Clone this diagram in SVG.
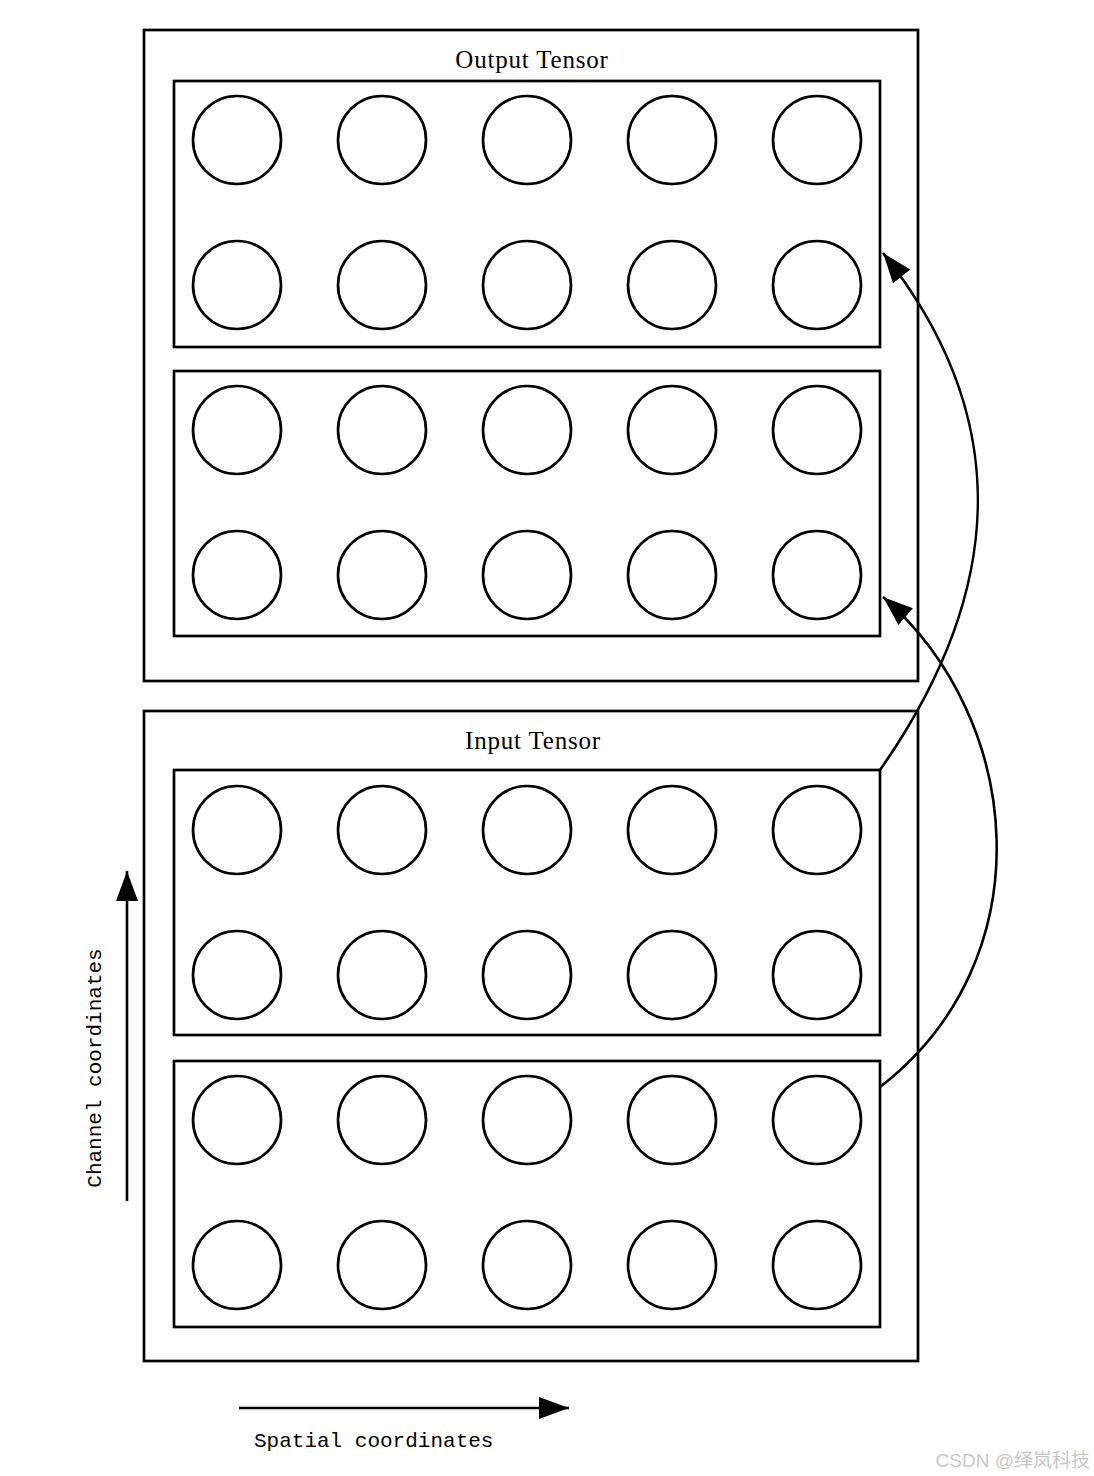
<svg xmlns="http://www.w3.org/2000/svg" width="1094" height="1476" viewBox="0 0 1094 1476">
<style>
.box{fill:none;stroke:#000;stroke-width:2.7}
.c{fill:none;stroke:#000;stroke-width:2.7}
.edge{fill:none;stroke:#000;stroke-width:2.6}
.title{font-family:"Liberation Serif","DejaVu Serif",serif;font-size:25px;letter-spacing:0.8px;text-anchor:middle;fill:#000}
.mono{font-family:"Liberation Mono","DejaVu Sans Mono",monospace;font-size:21px;fill:#000}
</style>
<defs>
<marker id="ah" markerUnits="userSpaceOnUse" markerWidth="32" markerHeight="24" refX="30" refY="11" orient="auto" viewBox="0 0 32 22">
<path d="M0,0 L30,11 L0,22 Z" fill="#000"/>
</marker>
<g id="row">
<circle class="c" cx="237" cy="0" r="44"/>
<circle class="c" cx="382" cy="0" r="44"/>
<circle class="c" cx="527" cy="0" r="44"/>
<circle class="c" cx="672" cy="0" r="44"/>
<circle class="c" cx="817" cy="0" r="44"/>
</g>
</defs>
<rect width="1094" height="1476" fill="#fff"/>
<g id="output-tensor">
<rect class="box" x="144" y="30" width="774" height="651"/>
<text class="title" x="532" y="68">Output Tensor</text>
<g id="output-block-1">
<rect class="box" x="174" y="81" width="706" height="266"/>
<use href="#row" y="140"/>
<use href="#row" y="285"/>
</g>
<g id="output-block-2">
<rect class="box" x="174" y="371" width="706" height="265"/>
<use href="#row" y="430"/>
<use href="#row" y="575"/>
</g>
</g>
<g id="input-tensor">
<rect class="box" x="144" y="711" width="774" height="650"/>
<text class="title" x="533" y="749">Input Tensor</text>
<g id="input-block-1">
<rect class="box" x="174" y="770" width="706" height="265"/>
<use href="#row" y="830"/>
<use href="#row" y="975"/>
</g>
<g id="input-block-2">
<rect class="box" x="174" y="1061" width="706" height="266"/>
<use href="#row" y="1120"/>
<use href="#row" y="1265"/>
</g>
</g>
<g id="connectors">
<path class="edge" d="M880,770 C1020,570 1000,400 883,253" marker-end="url(#ah)"/>
<path class="edge" d="M880,1087 C1045,960 1025,720 883,597" marker-end="url(#ah)"/>
<path class="edge" d="M127,1201 L127,871" marker-end="url(#ah)"/>
<path class="edge" d="M239,1408 L569,1408" marker-end="url(#ah)"/>
</g>
<g id="axis-labels">
<text class="mono" x="0" y="0" text-anchor="middle" transform="translate(101,1068) rotate(-90)">Channel coordinates</text>
<text class="mono" x="254" y="1447">Spatial coordinates</text>
</g>
<text x="1090" y="1467" text-anchor="end" font-family="'Liberation Sans','Noto Sans CJK SC',sans-serif" font-size="19" fill="#c8c8c8">CSDN @绎岚科技</text>
</svg>
